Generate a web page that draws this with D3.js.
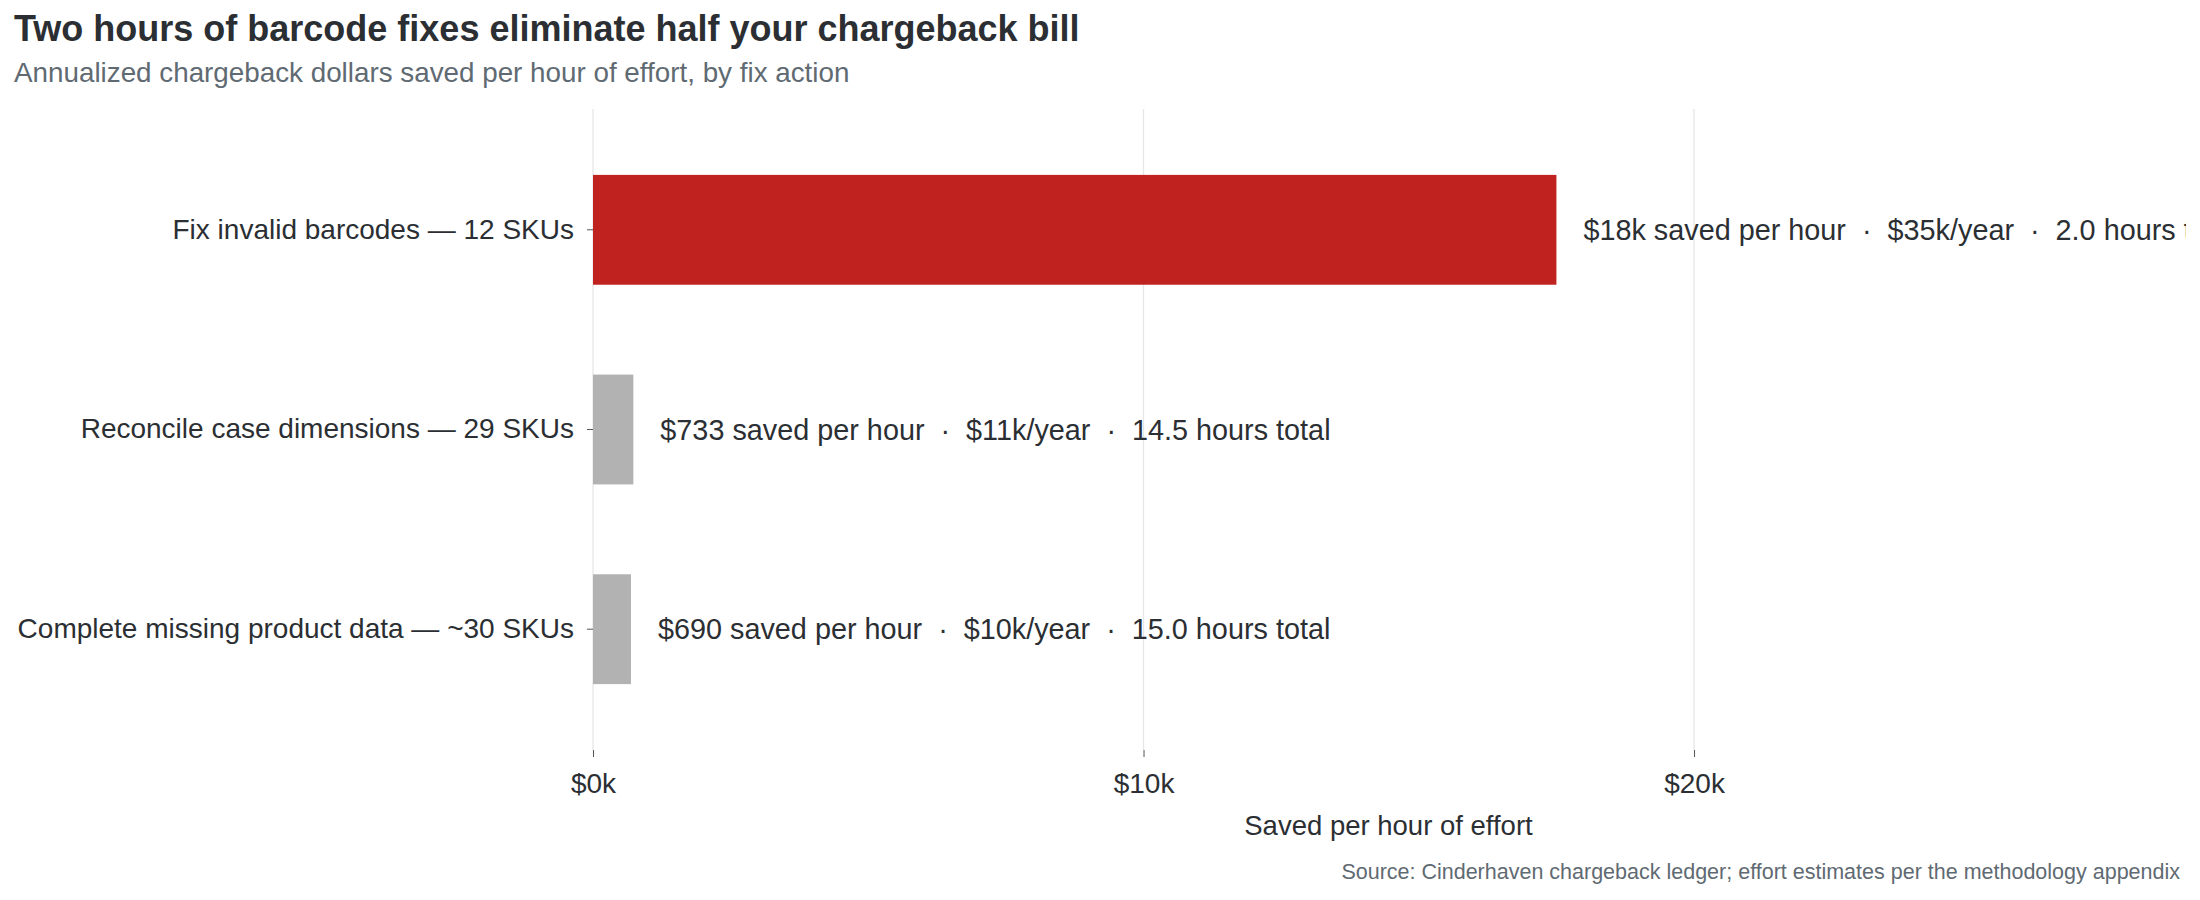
<!DOCTYPE html>
<html>
<head>
<meta charset="utf-8">
<script src="https://cdn.jsdelivr.net/npm/d3@7"></script>
<style>
  html, body { margin: 0; padding: 0; background: #fff; }
  svg text { font-family: "Liberation Sans", Arial, sans-serif; }
</style>
</head>
<body>
<div id="chart"></div>
<script>
const
  WIDTH = 2200,
  HEIGHT = 900,
  BAR_RED = '#c0221f',
  BAR_GRAY = '#b2b2b2',
  TEXT_DARK = '#2b2f33',
  TEXT_MUTED = '#5f6a72';

// data
const actions = [
  'Fix invalid barcodes — 12 SKUs',
  'Reconcile case dimensions — 29 SKUs',
  'Complete missing product data — ~30 SKUs'
];
const savedPerHour = [17500, 733, 690];
const annualSaved = [35000, 10630, 10350];
const hoursTotal = [2.0, 14.5, 15.0];
const highlighted = [true, false, false];
const xTicks = [0, 10000, 20000];
const xMax = 28900;

const title = 'Two hours of barcode fixes eliminate half your chargeback bill';
const subtitle = 'Annualized chargeback dollars saved per hour of effort, by fix action';
const xTitle = 'Saved per hour of effort';
const source = 'Source: Cinderhaven chargeback ledger; effort estimates per the methodology appendix';

const margin = { left: 593, right: 16, top: 109, bottom: 150 };
const chartWidth = WIDTH - margin.left - margin.right;
const chartHeight = HEIGHT - margin.top - margin.bottom;

const rows = actions.map((name, i) => ({
  name,
  perHour: savedPerHour[i],
  annual: annualSaved[i],
  hours: hoursTotal[i],
  hot: highlighted[i]
}));

function dollarsK(v) {
  return v >= 1000 ? `$${Math.round(v / 1000)}k` : `$${Math.round(v)}`;
}

function valueLabel(d) {
  return `${dollarsK(d.perHour)} saved per hour  ·  ${dollarsK(d.annual)}/year  ·  ${d.hours.toFixed(1)} hours total`;
}

const svg = d3.select('#chart')
  .append('svg')
  .attr('width', WIDTH)
  .attr('height', HEIGHT);

svg.append('defs')
  .append('clipPath')
  .attr('id', 'plot-clip')
  .append('rect')
  .attr('x', -margin.left)
  .attr('y', -margin.top)
  .attr('width', margin.left + chartWidth + 2)
  .attr('height', HEIGHT);

svg.append('text')
  .attr('x', 14)
  .attr('y', 41)
  .attr('fill', TEXT_DARK)
  .style('font-size', '36px')
  .style('font-weight', 'bold')
  .text(title);

svg.append('text')
  .attr('x', 14)
  .attr('y', 82)
  .attr('fill', TEXT_MUTED)
  .style('font-size', '27.8px')
  .text(subtitle);

const xScale = d3.scaleLinear()
  .domain([0, xMax])
  .range([0, chartWidth]);

const yScale = d3.scaleBand()
  .domain(actions)
  .range([0, chartHeight])
  .paddingInner(0.45)
  .paddingOuter(0.33);

const plot = svg.append('g')
  .attr('transform', `translate(${margin.left},${margin.top})`);

// vertical grid
plot.append('g')
  .attr('class', 'grid')
  .selectAll('line')
  .data(xTicks)
  .enter()
  .append('line')
  .attr('x1', d => xScale(d))
  .attr('x2', d => xScale(d))
  .attr('y1', 0)
  .attr('y2', chartHeight)
  .attr('stroke', '#e6e6e6')
  .attr('stroke-width', 1.3);

// x axis
const xAxis = d3.axisBottom(xScale)
  .tickValues(xTicks)
  .tickFormat(v => `$${v / 1000}k`)
  .tickSizeInner(7)
  .tickSizeOuter(0)
  .tickPadding(16);

const xAxisGroup = plot.append('g')
  .attr('class', 'axis axis-x')
  .attr('transform', `translate(0,${chartHeight})`)
  .call(xAxis);
xAxisGroup.select('.domain').remove();
xAxisGroup.selectAll('.tick line').attr('stroke', '#555');
xAxisGroup.selectAll('.tick text')
  .attr('fill', TEXT_DARK)
  .style('font-size', '28px');

// y axis
const yAxis = d3.axisLeft(yScale)
  .tickSizeInner(6)
  .tickSizeOuter(0)
  .tickPadding(13);

const yAxisGroup = plot.append('g')
  .attr('class', 'axis axis-y')
  .call(yAxis);
yAxisGroup.select('.domain').remove();
yAxisGroup.selectAll('.tick line').attr('stroke', '#555');
yAxisGroup.selectAll('.tick text')
  .attr('fill', TEXT_DARK)
  .style('font-size', '28px');

// bars
plot.append('g')
  .attr('class', 'bars')
  .selectAll('rect')
  .data(rows)
  .enter()
  .append('rect')
  .attr('x', xScale(0))
  .attr('y', d => yScale(d.name))
  .attr('width', d => xScale(d.perHour) - xScale(0))
  .attr('height', yScale.bandwidth())
  .attr('fill', d => d.hot ? BAR_RED : BAR_GRAY);

// value labels, clipped at the plot edge like the reference
plot.append('g')
  .attr('class', 'labels')
  .attr('clip-path', 'url(#plot-clip)')
  .selectAll('text')
  .data(rows)
  .enter()
  .append('text')
  .attr('x', d => xScale(d.perHour) + 27)
  .attr('y', d => yScale(d.name) + yScale.bandwidth() / 2)
  .attr('dy', '0.35em')
  .attr('fill', TEXT_DARK)
  .style('font-size', '28.8px')
  .style('white-space', 'pre')
  .text(valueLabel);

svg.append('text')
  .attr('x', margin.left + chartWidth / 2)
  .attr('y', 835)
  .attr('text-anchor', 'middle')
  .attr('fill', TEXT_DARK)
  .style('font-size', '27.5px')
  .text(xTitle);

svg.append('text')
  .attr('x', WIDTH - 20)
  .attr('y', 879)
  .attr('text-anchor', 'end')
  .attr('fill', TEXT_MUTED)
  .style('font-size', '21.5px')
  .text(source);
</script>
</body>
</html>
